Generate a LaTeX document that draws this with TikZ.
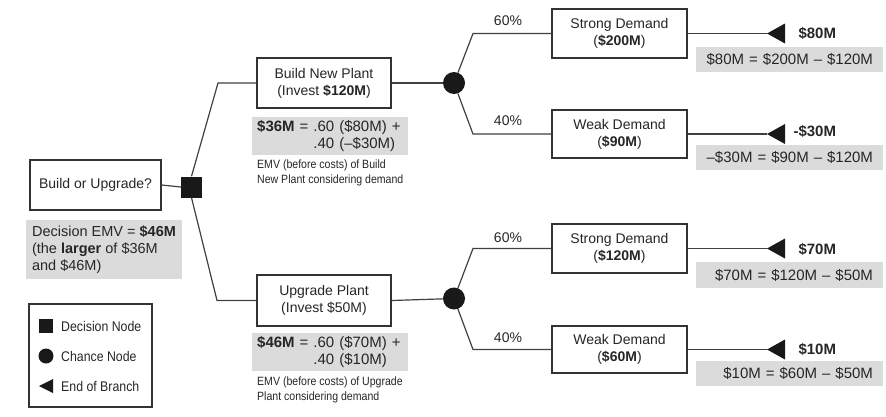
\documentclass[tikz,border=0pt]{standalone}
\usepackage{fontspec}
\setmainfont{Liberation Sans}
\newfontfamily\narrowfont[FakeStretch=0.88]{Liberation Sans}
\begin{document}
\begin{tikzpicture}[x=1pt,y=-1pt,
  every node/.style={text=black!85},
  box/.style={draw=black!80,line width=1.3pt,fill=white,align=center,inner sep=0pt,
              font=\fontsize{14}{17}\selectfont},
  pbox/.style={box,minimum width=134pt,minimum height=50pt},
  dbox/.style={box,minimum width=135pt,minimum height=48pt},
  link/.style={draw=black!75,line width=1.2pt},
  decnode/.style={fill=black!90,minimum size=21pt,inner sep=0pt},
  chance/.style={circle,fill=black!90,minimum size=22pt,inner sep=0pt},
  tipfill/.style={fill=black!90},
  pct/.style={font=\fontsize{14}{16}\selectfont},
  val/.style={anchor=west,font=\fontsize{15}{17}\selectfont\bfseries},
  grayr/.style={fill=black!14,inner sep=0pt,inner xsep=10pt,minimum width=187pt,minimum height=25pt,
               text width=167pt,align=right,font=\fontsize{15}{17}\selectfont},
  graym/.style={fill=black!14,inner sep=0pt,inner xsep=5pt,anchor=north west,minimum width=156pt,
               minimum height=38pt,text width=146pt,align=left,font=\fontsize{15}{17}\selectfont},
  caption/.style={anchor=west,align=left,inner sep=0pt,font=\narrowfont\fontsize{12}{15}\selectfont},
  legtext/.style={anchor=west,inner sep=0pt,font=\narrowfont\fontsize{14}{16}\selectfont}
]
\useasboundingbox (0,0) rectangle (886,416);

% main nodes
\node[box,minimum width=131pt,minimum height=50pt] (q) at (95.5,185) {Build or Upgrade?};
\node[decnode] (dec) at (191.5,187) {};
\node[pbox] (bnp) at (324,83) {Build New Plant\\(Invest \textbf{\$120M})};
\node[pbox,minimum height=51pt] (up) at (324,300.5) {Upgrade Plant\\(Invest \$50M)};
\node[chance] (c1) at (454,83) {};
\node[chance] (c2) at (454,298.5) {};
\node[dbox,minimum height=49pt] (s1) at (619.5,33.5) {Strong Demand\\(\textbf{\$200M})};
\node[dbox] (w1) at (619.5,134) {Weak Demand\\(\textbf{\$90M})};
\node[dbox,minimum height=49pt] (s2) at (619.5,248.5) {Strong Demand\\(\textbf{\$120M})};
\node[dbox,minimum height=47pt] (w2) at (619.5,349.5) {Weak Demand\\(\textbf{\$60M})};

% end-of-branch tips
\coordinate (t1) at (767,33.5);
\coordinate (t2) at (767,134);
\coordinate (t3) at (767,248.5);
\coordinate (t4) at (767,349.5);

% connectors
\draw[link] (q.east) -- (dec.west);
\draw[link] (dec.north) -- (218,83) -- (bnp.west);
\draw[link] (dec.south) -- (217,300.5) -- (up.west);
\draw[link] (bnp.east) -- (c1);
\draw[link] (up.east) -- (c2);
\draw[link] (c1) -- (473,33.5) -- (s1.west);
\draw[link] (c1) -- (473,134) -- (w1.west);
\draw[link] (c2) -- (473,248.5) -- (s2.west);
\draw[link] (c2) -- (473,349.5) -- (w2.west);
\draw[link] (s1.east) -- (t1);
\draw[link] (w1.east) -- (t2);
\draw[link] (s2.east) -- (t3);
\draw[link] (w2.east) -- (t4);

\foreach \t in {t1,t2,t3,t4}
  \fill[tipfill] (\t) -- ++(18,-10) -- ++(0,20) -- cycle;

% probabilities
\node[pct] (p1) at (508,21) {60\%};
\node[pct] (p2) at (508,121) {40\%};
\node[pct] (p3) at (508,238) {60\%};
\node[pct] (p4) at (508,338) {40\%};

% payoff values
\node[val] (v1) at (795,33) {\$80M};
\node[val] (v2) at (790,131) {-\$30M};
\node[val] (v3) at (795,249) {\$70M};
\node[val] (v4) at (795,349) {\$10M};

% payoff computations
\node[grayr] (g1) at (789.5,59.5) {\$80M = \$200M – \$120M};
\node[grayr] (g2) at (789.5,157.5) {–\$30M = \$90M – \$120M};
\node[grayr,minimum height=26pt] (g3) at (789.5,275) {\$70M = \$120M – \$50M};
\node[grayr] (g4) at (789.5,373.5) {\$10M = \$60M – \$50M};

% EMV computations
\node[graym] (e1) at (252,117) {\textbf{\$36M} = .60 (\$80M) +\\\phantom{\textbf{\$36M} = }.40 (–\$30M)};
\node[graym] (e2) at (252,333) {\textbf{\$46M} = .60 (\$70M) +\\\phantom{\textbf{\$46M} = }.40 (\$10M)};
\node[caption] (k1) at (257,173) {EMV (before costs) of Build\\New Plant considering demand};
\node[caption] (k2) at (257,390) {EMV (before costs) of Upgrade\\Plant considering demand};

% decision EMV
\node[fill=black!14,inner sep=0pt,minimum width=156pt,minimum height=59pt,
      align=left,font=\fontsize{14.5}{17}\selectfont] (demv) at (104,249.5)
  {Decision EMV = \textbf{\$46M}\\(the \textbf{larger} of \$36M\\and \$46M)};

% legend
\node[draw=black!80,line width=1.3pt,minimum width=123pt,minimum height=103pt,inner sep=0pt] (leg) at (90.5,355.5) {};
\node[fill=black!90,minimum size=14pt,inner sep=0pt] (ls) at (46,326) {};
\node[circle,fill=black!90,minimum size=15pt,inner sep=0pt] (lc) at (46,356) {};
\coordinate (lt) at (39,386);
\fill[tipfill] (lt) -- ++(14,-7) -- ++(0,14) -- cycle;
\node[legtext] (l1) at (61,326) {Decision Node};
\node[legtext] (l2) at (61,356) {Chance Node};
\node[legtext] (l3) at (61,386) {End of Branch};
\end{tikzpicture}
\end{document}
